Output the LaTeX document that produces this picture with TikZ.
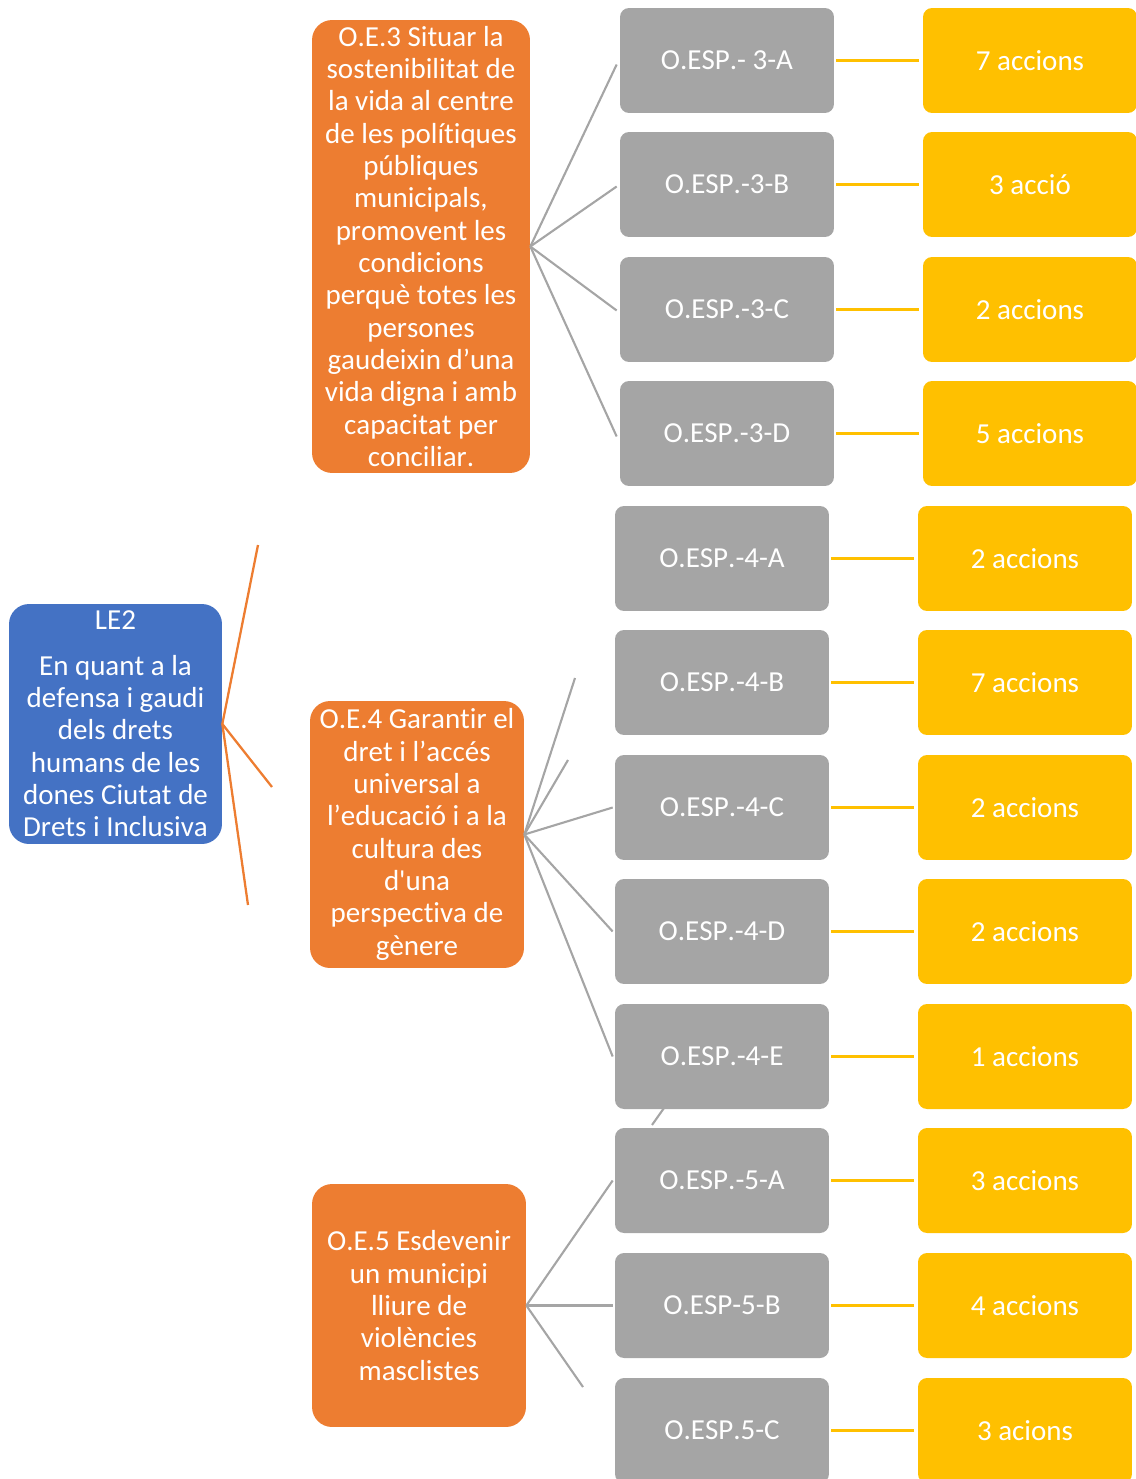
\documentclass[tikz,border=0pt]{standalone}
\usepackage{fontspec}
\setmainfont{Carlito}[Kerning=Off, Ligatures=NoCommon]
\definecolor{leblue}{HTML}{4472C4}
\definecolor{oeorange}{HTML}{ED7D31}
\definecolor{espgray}{HTML}{A5A5A5}
\definecolor{accyellow}{HTML}{FFC000}

\begin{document}
\begin{tikzpicture}[
    x=0.02cm, y=-0.02cm,
    every node/.style={font=\fontsize{16.5}{18.4}\selectfont, text=white, align=center, inner sep=0pt},
    espbox/.style={fill=espgray, rounded corners=0.18cm, minimum width=4.28cm, minimum height=2.1cm},
    accbox/.style={fill=accyellow, rounded corners=0.18cm, minimum width=4.28cm, minimum height=2.1cm},
    goalbox/.style={fill=oeorange, rounded corners=0.4cm, minimum width=4.28cm},
    gray link/.style={draw=espgray, line width=1.2pt},
    yellow link/.style={draw=accyellow, line width=1.3pt, shorten <=0.04cm, shorten >=0.08cm},
    orange link/.style={draw=oeorange, line width=1.3pt}]

    \useasboundingbox (0,0) rectangle (1135,1479);

    % line and goals
    \node[fill=leblue, rounded corners=0.4cm, minimum width=4.26cm, minimum height=4.8cm] (le2) at (115.5,724)
        {LE2\\[0.26cm]En quant a la\\defensa i gaudi\\dels drets\\humans de les\\dones Ciutat de\\Drets i Inclusiva};
    \node[goalbox, minimum width=4.36cm, minimum height=9.06cm] (oe3) at (421,246.5)
        {O.E.3 Situar la\\sostenibilitat de\\la vida al centre\\de les polítiques\\públiques\\municipals,\\promovent les\\condicions\\perquè totes les\\persones\\gaudeixin d’una\\vida digna i amb\\capacitat per\\conciliar.};
    \node[goalbox, minimum height=5.34cm] (oe4) at (417,834.5)
        {O.E.4 Garantir el\\dret i l’accés\\universal a\\l’educació i a la\\cultura des\\d\textquotesingle una\\perspectiva de\\gènere};
    \node[goalbox, minimum height=4.86cm] (oe5) at (419,1305.5)
        {O.E.5 Esdevenir\\un municipi\\lliure de\\violències\\masclistes};

    % specific goals
    \node[espbox] (esp3a) at (727,60.5) {O.ESP.- 3-A};
    \node[espbox] (esp3b) at (727,184.5) {O.ESP.-3-B};
    \node[espbox] (esp3c) at (727,309.5) {O.ESP.-3-C};
    \node[espbox] (esp3d) at (727,433.5) {O.ESP.-3-D};
    \node[espbox] (esp4a) at (722,558.5) {O.ESP.-4-A};
    \node[espbox] (esp4b) at (722,682.5) {O.ESP.-4-B};
    \node[espbox] (esp4c) at (722,807.5) {O.ESP.-4-C};
    \node[espbox] (esp4d) at (722,931.5) {O.ESP.-4-D};
    \node[espbox] (esp4e) at (722,1056.5) {O.ESP.-4-E};
    \node[espbox] (esp5a) at (722,1180.5) {O.ESP.-5-A};
    \node[espbox] (esp5b) at (722,1305.5) {O.ESP-5-B};
    \node[espbox] (esp5c) at (722,1430.5) {O.ESP.5-C};

    % actions
    \node[accbox] (acc3a) at (1030,60.5) {7 accions};
    \node[accbox] (acc3b) at (1030,184.5) {3 acció};
    \node[accbox] (acc3c) at (1030,309.5) {2 accions};
    \node[accbox] (acc3d) at (1030,433.5) {5 accions};
    \node[accbox] (acc4a) at (1025,558.5) {2 accions};
    \node[accbox] (acc4b) at (1025,682.5) {7 accions};
    \node[accbox] (acc4c) at (1025,807.5) {2 accions};
    \node[accbox] (acc4d) at (1025,931.5) {2 accions};
    \node[accbox] (acc4e) at (1025,1056.5) {1 accions};
    \node[accbox] (acc5a) at (1025,1180.5) {3 accions};
    \node[accbox] (acc5b) at (1025,1305.5) {4 accions};
    \node[accbox] (acc5c) at (1025,1430.5) {3 acions};

    % loose ends
    \coordinate (le2up) at (258,545);
    \coordinate (le2mid) at (272,787);
    \coordinate (le2down) at (248,905);
    \coordinate (oe4up) at (575,678);
    \coordinate (oe4mid) at (568,760);
    \coordinate (oe5down) at (583,1387);
    \coordinate (gapa) at (652,1125);
    \coordinate (gapb) at (664,1108);

    \draw[orange link] (le2.east) -- (le2up);
    \draw[orange link] (le2.east) -- (le2mid);
    \draw[orange link] (le2.east) -- (le2down);

    \draw[gray link] (oe3.east) -- ([shift={(-3,4)}]esp3a.west);
    \draw[gray link] (oe3.east) -- ([shift={(-3,2)}]esp3b.west);
    \draw[gray link] (oe3.east) -- ([shift={(-3,1)}]esp3c.west);
    \draw[gray link] (oe3.east) -- ([shift={(-3,3)}]esp3d.west);

    \draw[gray link] (oe4.east) -- (oe4up);
    \draw[gray link] (oe4.east) -- (oe4mid);
    \draw[gray link] (oe4.east) -- ([xshift=-0.04cm]esp4c.west);
    \draw[gray link] (oe4.east) -- ([xshift=-0.04cm]esp4d.west);
    \draw[gray link] (oe4.east) -- ([xshift=-0.04cm]esp4e.west);
    \draw[gray link] (gapa) -- (gapb);

    \draw[gray link] (oe5.east) -- ([xshift=-0.04cm]esp5a.west);
    \draw[gray link] (oe5.east) -- ([xshift=-0.04cm]esp5b.west);
    \draw[gray link] (oe5.east) -- (oe5down);

    \draw[yellow link] (esp3a) -- (acc3a);
    \draw[yellow link] (esp3b) -- (acc3b);
    \draw[yellow link] (esp3c) -- (acc3c);
    \draw[yellow link] (esp3d) -- (acc3d);
    \draw[yellow link] (esp4a) -- (acc4a);
    \draw[yellow link] (esp4b) -- (acc4b);
    \draw[yellow link] (esp4c) -- (acc4c);
    \draw[yellow link] (esp4d) -- (acc4d);
    \draw[yellow link] (esp4e) -- (acc4e);
    \draw[yellow link] (esp5a) -- (acc5a);
    \draw[yellow link] (esp5b) -- (acc5b);
    \draw[yellow link] (esp5c) -- (acc5c);
\end{tikzpicture}
\end{document}
